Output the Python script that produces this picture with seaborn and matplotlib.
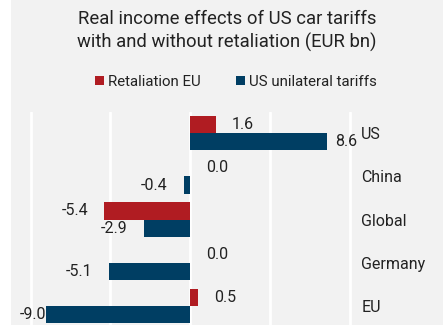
import matplotlib
matplotlib.use("Agg")
import matplotlib.pyplot as plt
import seaborn as sns
import pandas as pd
from matplotlib.patches import Rectangle, Patch

categories = ["US", "China", "Global", "Germany", "EU"]
series_names = ["Retaliation EU", "US unilateral tariffs"]
retaliation_eu = [1.6, 0.0, -5.4, 0.0, 0.5]
us_unilateral = [8.6, -0.4, -2.9, -5.1, -9.0]
colors = ["#B01C22", "#003E63"]

df = pd.DataFrame({
    "region": categories * 2,
    "series": [series_names[0]] * len(categories) + [series_names[1]] * len(categories),
    "value": retaliation_eu + us_unilateral,
})

sns.set_theme(style="white")
plt.rcParams["font.family"] = ["Roboto", "DejaVu Sans"]

W, H = 443, 325
fig = plt.figure(figsize=(W / 100, H / 100), dpi=100)
fig.patch.set_facecolor("white")
fig.add_artist(Rectangle((11 / W, 0), 1 - 11 / W, 1, transform=fig.transFigure,
                         facecolor="#F2F2F2", edgecolor="none", zorder=-10))

xmin, xmax = -11.9, 10.6
ax = fig.add_axes([0.0005, 0.0, 359 / W, 1 - 112 / H])
ax.set_facecolor("none")
sns.barplot(data=df, y="region", x="value", hue="series", hue_order=series_names,
            order=categories, palette=colors, orient="h", width=0.8,
            ax=ax, legend=False, saturation=1, edgecolor="none", zorder=3)
ax.set_xlim(xmin, xmax)
ax.set_ylim(4.44, -0.49)
ax.set_xticks([-10, -5, 0, 5, 10])
ax.set_xticklabels([])
ax.grid(axis="x", color="white", linewidth=2, zorder=0)
ax.set_axisbelow(True)
for s in ax.spines.values():
    s.set_visible(False)
ax.yaxis.tick_right()
ax.tick_params(axis="y", length=0, pad=1.5, labelsize=11.5, labelcolor="#222222")
ax.tick_params(axis="x", length=0)
ax.set_xlabel("")
ax.set_ylabel("")

# value labels
for si, vals in enumerate([retaliation_eu, us_unilateral]):
    off = -0.2 if si == 0 else 0.2
    for i, v in enumerate(vals):
        y = i + off
        if v >= 0:
            x = min(v + 1.0, 9.1)
            ha = "left"
        else:
            x = max(v - 1.0, -9.0)
            ha = "right"
        ax.text(x, y, f"{v:.1f}", ha=ha, va="center", fontsize=11.5, color="#222222",
                clip_on=False, zorder=5)

fig.text(227 / W, 1 - 31 / H, "Real income effects of US car tariffs\nwith and without retaliation (EUR bn)",
         ha="center", va="center", fontsize=13.3, color="#222222", linespacing=1.3)

handles = [Patch(facecolor=c, edgecolor="none") for c in colors]
fig.legend(handles, series_names, loc="center", bbox_to_anchor=(236 / W, 1 - 82 / H),
           ncol=2, frameon=False, fontsize=10.8, handlelength=0.6, handleheight=0.6,
           handletextpad=0.25, columnspacing=2.4, labelcolor="#222222")

fig.savefig("out.png", dpi=100)
